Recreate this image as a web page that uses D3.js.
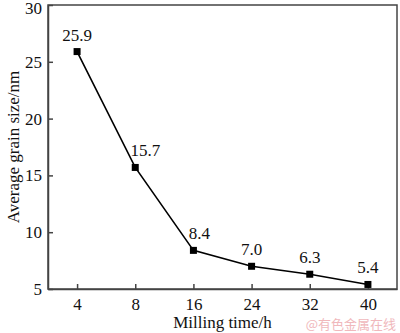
<!DOCTYPE html>
<html><head><meta charset="utf-8">
<script src="https://cdn.jsdelivr.net/npm/d3@7"></script>
<style>body{margin:0;background:#fff}svg{display:block}</style>
</head><body>
<script>
const categories = ["4","8","16","24","32","40"];
const grainSize = [25.9, 15.7, 8.4, 7.0, 6.3, 5.4];
const valueLabels = ["25.9","15.7","8.4","7.0","6.3","5.4"];
const yTicks = [5,10,15,20,25,30];

const W=400,H=333, m={l:48,r:3,t:5,b:44};
const svg=d3.select("body").append("svg").attr("width",W).attr("height",H);
const x=d3.scalePoint().domain(categories).range([m.l,W-m.r]).padding(0.5);
const y=d3.scaleLinear().domain([5,30]).range([H-m.b,m.t]);
const font="'Liberation Serif','Times New Roman',serif";
const axisColor="#444";

const xa=svg.append("g").attr("transform",`translate(0,${H-m.b})`)
  .call(d3.axisBottom(x).tickSizeInner(-5).tickSizeOuter(0).tickPadding(9));
const ya=svg.append("g").attr("transform",`translate(${m.l},0)`)
  .call(d3.axisLeft(y).tickValues(yTicks).tickSizeInner(-5).tickSizeOuter(0).tickPadding(6));
[xa,ya].forEach(a=>{
  a.selectAll("path,line").attr("stroke",axisColor).attr("stroke-width",1.5);
  a.selectAll("text").attr("font-family",font).attr("font-size",17).attr("fill","#111");
});
// keep the top tick label inside the picture
ya.selectAll(".tick text").filter(d=>d===30).attr("dy","0.5em");
// frame top and right
svg.append("rect").attr("x",m.l).attr("y",m.t).attr("width",W-m.r-m.l).attr("height",H-m.b-m.t)
  .attr("fill","none").attr("stroke",axisColor).attr("stroke-width",1.5);

const line=d3.line().x((d,i)=>x(categories[i])).y(d=>y(d));
svg.append("path").datum(grainSize).attr("d",line).attr("fill","none")
  .attr("stroke","#000").attr("stroke-width",1.6);
svg.selectAll("rect.pt").data(grainSize).enter().append("rect").attr("class","pt")
  .attr("x",(d,i)=>x(categories[i])-3.5).attr("y",d=>y(d)-3.5)
  .attr("width",7).attr("height",7).attr("fill","#000");

const dxOff=[0,10,6,0,0,0];
svg.selectAll("text.lbl").data(grainSize).enter().append("text").attr("class","lbl")
  .attr("x",(d,i)=>x(categories[i])+dxOff[i]).attr("y",d=>y(d)-11)
  .attr("text-anchor","middle").attr("font-family",font).attr("font-size",17).attr("fill","#111")
  .text((d,i)=>valueLabels[i]);

svg.append("text").attr("x",(m.l+W-m.r)/2).attr("y",328).attr("text-anchor","middle")
  .attr("font-family",font).attr("font-size",17).attr("fill","#111").text("Milling time/h");
svg.append("text").attr("transform",`translate(19,${(m.t+H-m.b)/2}) rotate(-90)`)
  .attr("text-anchor","middle").attr("font-family",font).attr("font-size",17).attr("fill","#111")
  .text("Average grain size/nm");
svg.append("text").attr("x",396).attr("y",329).attr("text-anchor","end")
  .attr("font-family","'Noto Sans CJK SC',sans-serif").attr("font-size",13).attr("fill","#f0b8bc")
  .text("@有色金属在线");
</script>
</body></html>
